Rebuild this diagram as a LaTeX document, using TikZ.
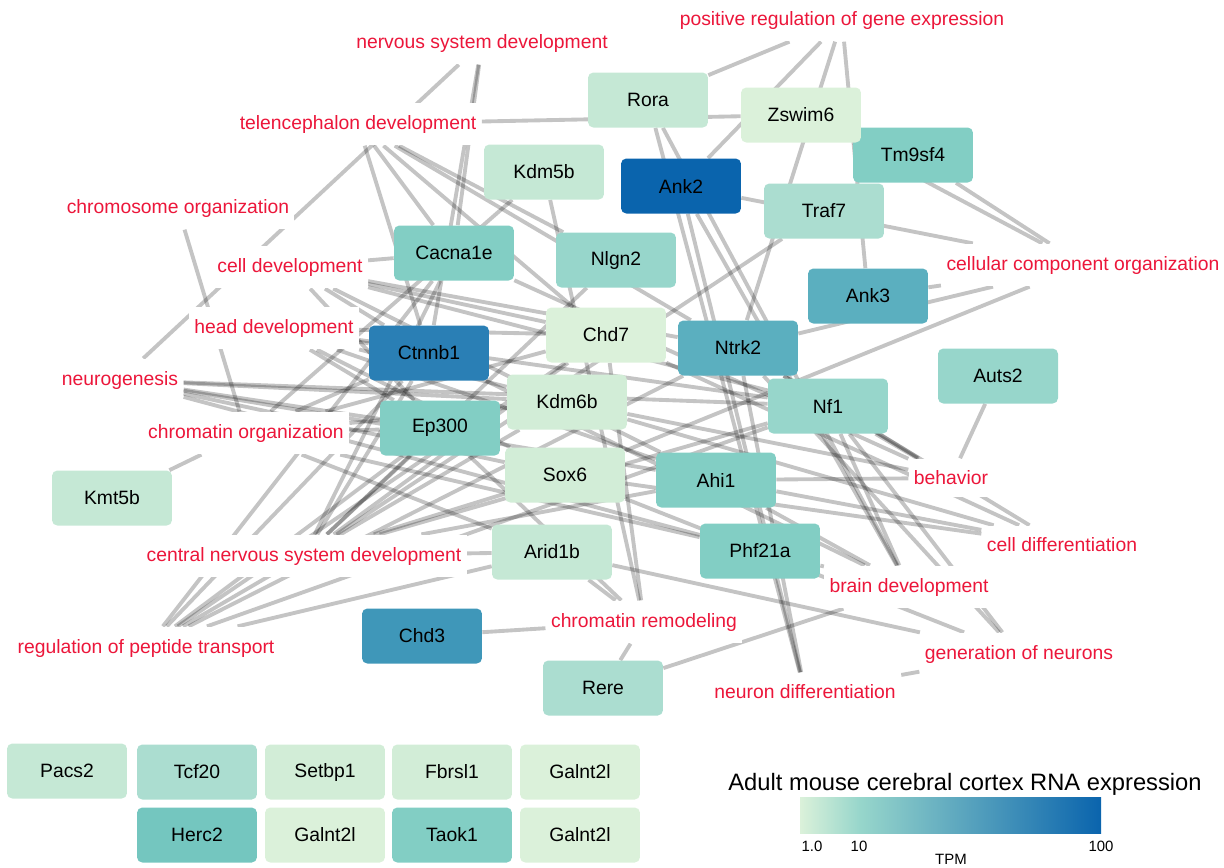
\documentclass[tikz,border=0pt]{standalone}
\usepackage{fontspec}
\setmainfont{Liberation Sans}
\usetikzlibrary{calc}
\pgfdeclarelayer{background}
\pgfsetlayers{background,main}

\definecolor{termred}{RGB}{236,22,58}
\definecolor{lvA}{HTML}{DBF1DA}
\definecolor{lvB}{HTML}{D2EDD7}
\definecolor{lvC}{HTML}{C5E8D5}
\definecolor{lvD}{HTML}{ABDDD0}
\definecolor{lvE}{HTML}{97D6CB}
\definecolor{lvF}{HTML}{82CEC4}
\definecolor{lvG}{HTML}{74C6BF}
\definecolor{lvH}{HTML}{5BAFBF}
\definecolor{lvI}{HTML}{3F97B9}
\definecolor{lvJ}{HTML}{2A7FB5}
\definecolor{lvK}{HTML}{0A64AD}

\tikzset{
  gene/.style={rectangle, rounded corners=3pt, minimum width=2.4cm, minimum height=1.1cm,
    font=\fontsize{11}{13}\selectfont, text=black},
  term/.style={fill=white, text=termred, font=\fontsize{11}{13}\selectfont,
    inner xsep=3pt, inner ysep=7pt},
  edge/.style={line width=2.2pt, color=black, opacity=0.23},
}

\begin{document}
\begin{tikzpicture}[x=0.02cm, y=-0.02cm]
\useasboundingbox (0,0) rectangle (1224,867);

% genes
\node[gene, fill=lvC] (rora) at (648,100) {Rora};
\node[gene, fill=lvF] (tm9sf4) at (913,155) {Tm9sf4};
\node[gene, fill=lvA] (zswim6) at (801,115) {Zswim6};
\node[gene, fill=lvC] (kdm5b) at (544,172) {Kdm5b};
\node[gene, fill=lvK] (ank2) at (681,186) {Ank2};
\node[gene, fill=lvD] (traf7) at (824,211) {Traf7};
\node[gene, fill=lvF] (cacna1e) at (454,253) {Cacna1e};
\node[gene, fill=lvE] (nlgn2) at (616,260) {Nlgn2};
\node[gene, fill=lvH] (ank3) at (868,296) {Ank3};
\node[gene, fill=lvA] (chd7) at (606,335) {Chd7};
\node[gene, fill=lvH] (ntrk2) at (738,348) {Ntrk2};
\node[gene, fill=lvJ] (ctnnb1) at (429,353) {Ctnnb1};
\node[gene, fill=lvE] (auts2) at (998,376) {Auts2};
\node[gene, fill=lvB] (kdm6b) at (567,402) {Kdm6b};
\node[gene, fill=lvE] (nf1) at (828,406) {Nf1};
\node[gene, fill=lvF] (ep300) at (440,428) {Ep300};
\node[gene, fill=lvB] (sox6) at (565,475) {Sox6};
\node[gene, fill=lvF] (ahi1) at (716,480) {Ahi1};
\node[gene, fill=lvC] (kmt5b) at (112,498) {Kmt5b};
\node[gene, fill=lvC] (arid1b) at (552,552) {Arid1b};
\node[gene, fill=lvF] (phf21a) at (760,551) {Phf21a};
\node[gene, fill=lvI] (chd3) at (422,636) {Chd3};
\node[gene, fill=lvD] (rere) at (603,688) {Rere};

% genes without links
\node[gene, fill=lvC] (pacs2) at (67,771) {Pacs2};
\node[gene, fill=lvD] (tcf20) at (197,772) {Tcf20};
\node[gene, fill=lvB] (setbp1) at (325,772) {Setbp1};
\node[gene, fill=lvB] (fbrsl1) at (452,772) {Fbrsl1};
\node[gene, fill=lvA] (galntA) at (580,772) {Galnt2l};
\node[gene, fill=lvG] (herc2) at (197,835) {Herc2};
\node[gene, fill=lvA] (galntB) at (325,835) {Galnt2l};
\node[gene, fill=lvF] (taok1) at (452,835) {Taok1};
\node[gene, fill=lvA] (galntC) at (580,835) {Galnt2l};

% GO terms
\node[term] (posreg) at (842,20) {positive regulation of gene expression};
\node[term] (nervsys) at (482,43) {nervous system development};
\node[term] (telen) at (358,124) {telencephalon development};
\node[term] (chromosome) at (178,208) {chromosome organization};
\node[term] (celldev) at (290,267) {cell development};
\node[term] (cellcomp) at (1083,265) {cellular component organization};
\node[term] (headdev) at (274,328) {head development};
\node[term] (neurogen) at (120,380) {neurogenesis};
\node[term] (chromatin) at (246,433) {chromatin organization};
\node[term] (behav) at (951,478) {behavior};
\node[term] (celldiff) at (1062,545) {cell differentiation};
\node[term] (cns) at (304,556) {central nervous system development};
\node[term] (braindev) at (909,587) {brain development};
\node[term] (remodel) at (644,622) {chromatin remodeling};
\node[term] (peptide) at (146,648) {regulation of peptide transport};
\node[term] (genneur) at (1019,654) {generation of neurons};
\node[term] (neurdiff) at (805,692) {neuron differentiation};

\begin{pgfonlayer}{background}
  \foreach \g in {rora,ank2,ntrk2,ank3} \draw[edge] (\g) -- (posreg);
  \foreach \g in {cacna1e,ctnnb1,neurogen} \draw[edge] (\g) -- (nervsys);
  \foreach \g in {zswim6,ctnnb1,cacna1e,chd7,nlgn2,ntrk2} \draw[edge] (\g) -- (telen);
  \draw[edge] (chromosome) -- (chromatin);
  \foreach \g in {cacna1e,ntrk2,nf1,ctnnb1,ep300,ahi1,chd7} \draw[edge] (\g) -- (celldev);
  \foreach \g in {tm9sf4,zswim6,ank2,ank3,ntrk2,sox6} \draw[edge] (\g) -- (cellcomp);
  \foreach \g in {ctnnb1,ep300,kdm6b,sox6,ahi1,nf1,chd7} \draw[edge] (\g) -- (headdev);
  \foreach \g in {ep300,ahi1,sox6,phf21a,nf1,kdm6b} \draw[edge] (\g) -- (neurogen);
  \foreach \g in {ep300,kdm6b,chd7,arid1b,kdm5b,ctnnb1,kmt5b,phf21a} \draw[edge] (\g) -- (chromatin);
  \foreach \g in {auts2,nf1,ntrk2,ahi1,kdm6b,cacna1e} \draw[edge] (\g) -- (behav);
  \foreach \g in {ahi1,kdm6b,sox6,ntrk2,chd7} \draw[edge] (\g) -- (celldiff);
  \foreach \g in {ctnnb1,ep300,sox6,arid1b,ahi1,nf1,chd7,cacna1e,traf7,nlgn2} \draw[edge] (\g) -- (cns);
  \foreach \g in {rere,phf21a,nf1,ahi1,ctnnb1,rora,ank2} \draw[edge] (\g) -- (braindev);
  \foreach \g in {chd3,rere,kdm5b,chd7,arid1b,ep300} \draw[edge] (\g) -- (remodel);
  \foreach \g in {cacna1e,kdm6b,chd7,ntrk2,nf1,arid1b,ep300,ctnnb1} \draw[edge] (\g) -- (peptide);
  \foreach \g in {arid1b,sox6,nf1,ntrk2,neurdiff} \draw[edge] (\g) -- (genneur);
  \foreach \g in {ntrk2,rora,ank2} \draw[edge] (\g) -- (neurdiff);
\end{pgfonlayer}

% legend
\node[font=\fontsize{13.5}{16}\selectfont] (legtitle) at (965,784) {Adult mouse cerebral cortex RNA expression};
\shade[left color=lvA, right color=lvE] (800,797) rectangle (860,833);
\shade[left color=lvE, middle color=lvI, right color=lvK] (860,797) rectangle (1101,833);
\node[font=\fontsize{8.5}{10}\selectfont] (tickA) at (812,846) {1.0};
\node[font=\fontsize{8.5}{10}\selectfont] (tickB) at (859,846) {10};
\node[font=\fontsize{8.5}{10}\selectfont] (tickC) at (1101,846) {100};
\node[font=\fontsize{8.5}{10}\selectfont] (tpm) at (951,859) {TPM};
\end{tikzpicture}
\end{document}
